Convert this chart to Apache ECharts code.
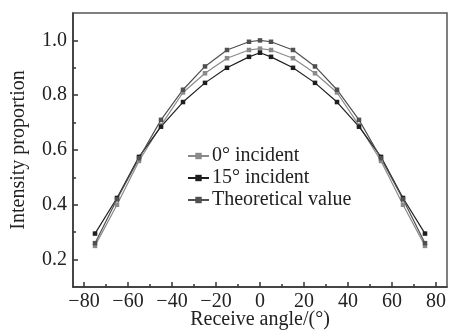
<!DOCTYPE html>
<html><head><meta charset="utf-8">
<script src="https://cdn.jsdelivr.net/npm/echarts@6/dist/echarts.min.js"></script>
<style>html,body{margin:0;padding:0;background:#fff}#c{width:449px;height:330px}</style>
</head><body><div id="c"></div>
<script>
var angles = [-75,-65,-55,-45,-35,-25,-15,-5,0,5,15,25,35,45,55,65,75];
var incident0 = [0.25,0.40,0.56,0.69,0.81,0.88,0.935,0.965,0.97,0.965,0.935,0.88,0.81,0.69,0.56,0.40,0.25];
var incident15 = [0.295,0.425,0.575,0.685,0.775,0.845,0.90,0.94,0.955,0.94,0.90,0.845,0.775,0.685,0.575,0.425,0.295];
var theoretical = [0.26,0.42,0.57,0.71,0.82,0.905,0.965,0.995,1.0,0.995,0.965,0.905,0.82,0.71,0.57,0.42,0.26];
var xTicks = [-80,-60,-40,-20,0,20,40,60,80];
var xMinor = [-70,-50,-30,-10,10,30,50,70];
var yTicks = [0.2,0.4,0.6,0.8,1.0];
var yMinor = [0.3,0.5,0.7,0.9];
var names = ['0\u00b0 incident','15\u00b0 incident','Theoretical value'];
var colors = ['#8a8a8a','#1e1e1e','#505050'];

function pairs(v){ return angles.map(function(a,i){ return [a, v[i]]; }); }
var font = 'Liberation Serif';
var axC = '#333';
var fs = 20;
function mkSeries(name, vals, color){
  return {name:name,type:'line',data:pairs(vals),symbol:'rect',symbolSize:4.5,
    lineStyle:{color:color,width:1.2},itemStyle:{color:color},animation:false};
}
var chart = echarts.init(document.getElementById('c'));
chart.setOption({
  animation:false,
  grid:{left:73,right:2,top:13,bottom:43,show:true,borderColor:'#555',borderWidth:1.5,
    containLabel:false,outerBoundsMode:'none'},
  legend:{orient:'vertical',left:182,top:141,itemWidth:21,itemHeight:8,itemGap:2,
    textStyle:{fontFamily:font,fontSize:fs,color:'#222',padding:[0,0,0,-2]},
    data:names},
  xAxis:[{type:'value',min:-85,max:85,position:'bottom',
    splitLine:{show:false},
    axisLine:{onZero:false,lineStyle:{color:axC,width:1.5}},
    axisTick:{inside:true,length:5,customValues:xTicks,lineStyle:{color:axC,width:1.5}},
    axisLabel:{customValues:xTicks,fontFamily:font,fontSize:fs,color:'#222',margin:5,
      formatter:function(v){return String(v).replace('-','\u2212');}},
    name:'Receive angle/(\u00b0)',nameLocation:'middle',nameGap:23,nameMoveOverlap:false,
    nameTextStyle:{fontFamily:font,fontSize:fs,color:'#222'}},
   {type:'value',min:-85,max:85,position:'bottom',gridIndex:0,
    splitLine:{show:false},axisLine:{show:false,onZero:false},axisLabel:{show:false},
    axisTick:{inside:true,length:3,customValues:xMinor,lineStyle:{color:axC,width:1.5}}}],
  yAxis:[{type:'value',min:0.1,max:1.1,
    splitLine:{show:false},
    axisLine:{onZero:false,lineStyle:{color:axC,width:1.5}},
    axisTick:{inside:true,length:5,customValues:yTicks,lineStyle:{color:axC,width:1.5}},
    axisLabel:{customValues:yTicks,fontFamily:font,fontSize:fs,color:'#222',margin:6,
      formatter:function(v){return v.toFixed(1);}},
    name:'Intensity proportion',nameLocation:'middle',nameGap:44,nameMoveOverlap:false,
    nameTextStyle:{fontFamily:font,fontSize:fs,color:'#222'}},
   {type:'value',min:0.1,max:1.1,position:'left',
    splitLine:{show:false},axisLine:{show:false,onZero:false},axisLabel:{show:false},
    axisTick:{inside:true,length:3,customValues:yMinor,lineStyle:{color:axC,width:1.5}}}],
  series:[mkSeries(names[0],incident0,colors[0]),mkSeries(names[1],incident15,colors[1]),mkSeries(names[2],theoretical,colors[2])]
});
</script></body></html>
